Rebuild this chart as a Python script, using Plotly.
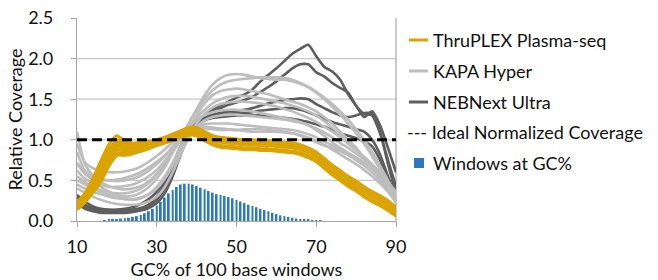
import plotly.graph_objects as go

GC = [10,12,14,16,18,20,22,24,26,28,30,32,34,36,38,40,42,44,46,48,50,52,54,56,58,60,62,64,66,68,70,72,74,76,78,80,82,84,86,88,90]

THRUPLEX = [
 [0.23,0.34,0.52,0.74,0.94,1.05,0.98,0.96,0.97,0.98,1.0,1.03,1.07,1.11,1.15,1.15,1.1,1.05,1.03,1.02,1.01,1.0,1.0,0.99,0.99,0.98,0.97,0.96,0.94,0.9,0.85,0.77,0.69,0.62,0.55,0.49,0.42,0.36,0.31,0.25,0.17],
 [0.19,0.31,0.48,0.67,0.87,1.0,0.95,0.93,0.94,0.96,0.99,1.02,1.05,1.09,1.12,1.12,1.07,1.02,1.0,0.99,0.98,0.97,0.97,0.96,0.96,0.95,0.94,0.93,0.91,0.87,0.82,0.74,0.66,0.59,0.52,0.46,0.39,0.33,0.28,0.22,0.14],
 [0.25,0.29,0.44,0.62,0.81,0.95,0.91,0.9,0.92,0.95,0.98,1.01,1.04,1.08,1.11,1.11,1.06,1.01,0.99,0.98,0.97,0.96,0.96,0.95,0.95,0.94,0.93,0.92,0.9,0.86,0.81,0.73,0.65,0.58,0.51,0.45,0.38,0.32,0.27,0.21,0.13],
 [0.16,0.27,0.42,0.6,0.79,0.92,0.88,0.88,0.91,0.94,0.97,1.0,1.03,1.07,1.1,1.1,1.05,1.0,0.98,0.97,0.96,0.95,0.95,0.94,0.94,0.93,0.92,0.91,0.89,0.85,0.8,0.72,0.64,0.57,0.5,0.44,0.37,0.31,0.26,0.2,0.12],
 [0.21,0.26,0.39,0.56,0.75,0.88,0.86,0.87,0.9,0.93,0.96,0.99,1.02,1.06,1.09,1.09,1.04,0.99,0.97,0.96,0.95,0.94,0.94,0.93,0.93,0.92,0.91,0.9,0.88,0.84,0.79,0.71,0.63,0.56,0.49,0.43,0.36,0.3,0.25,0.19,0.11],
 [0.14,0.23,0.36,0.52,0.71,0.84,0.83,0.85,0.88,0.91,0.94,0.97,1.0,1.04,1.07,1.07,1.01,0.96,0.93,0.92,0.91,0.9,0.9,0.89,0.89,0.88,0.87,0.86,0.84,0.8,0.75,0.67,0.59,0.52,0.45,0.39,0.32,0.26,0.21,0.15,0.07],
 [0.18,0.28,0.45,0.64,0.85,0.97,0.93,0.92,0.93,0.95,0.98,1.01,1.04,1.08,1.12,1.12,1.08,1.03,1.01,1.0,0.99,0.98,0.98,0.97,0.97,0.96,0.95,0.94,0.92,0.88,0.83,0.75,0.67,0.6,0.53,0.47,0.4,0.34,0.29,0.23,0.15],
 [0.22,0.25,0.35,0.49,0.68,0.81,0.81,0.83,0.86,0.89,0.93,0.96,0.99,1.03,1.06,1.05,0.99,0.94,0.91,0.9,0.89,0.88,0.88,0.87,0.87,0.86,0.85,0.84,0.82,0.78,0.73,0.65,0.57,0.5,0.43,0.37,0.3,0.24,0.19,0.13,0.06],
]

KAPA = [
 [0.72,0.6,0.5,0.42,0.36,0.32,0.3,0.31,0.35,0.42,0.52,0.66,0.84,1.02,1.2,1.38,1.55,1.68,1.76,1.8,1.81,1.8,1.78,1.76,1.75,1.74,1.74,1.72,1.69,1.65,1.59,1.52,1.44,1.35,1.25,1.13,1.0,0.85,0.68,0.5,0.3],
 [1.1,0.7,0.56,0.48,0.43,0.4,0.39,0.4,0.43,0.49,0.58,0.7,0.86,1.03,1.2,1.36,1.5,1.61,1.68,1.72,1.74,1.75,1.76,1.77,1.77,1.77,1.76,1.74,1.7,1.65,1.58,1.5,1.41,1.31,1.2,1.08,0.95,0.8,0.64,0.48,0.32],
 [0.5,0.45,0.4,0.36,0.32,0.29,0.27,0.26,0.28,0.33,0.42,0.55,0.72,0.92,1.12,1.3,1.45,1.55,1.6,1.62,1.63,1.62,1.6,1.58,1.56,1.53,1.5,1.47,1.44,1.4,1.35,1.28,1.2,1.1,1.0,0.9,0.78,0.66,0.54,0.42,0.26],
 [0.62,0.52,0.47,0.44,0.42,0.42,0.43,0.45,0.49,0.55,0.63,0.74,0.87,1.01,1.15,1.27,1.37,1.45,1.5,1.53,1.54,1.54,1.53,1.51,1.49,1.47,1.45,1.42,1.39,1.35,1.3,1.23,1.15,1.06,0.97,0.88,0.78,0.68,0.57,0.45,0.34],
 [0.85,0.62,0.55,0.52,0.5,0.49,0.5,0.52,0.56,0.62,0.7,0.8,0.92,1.04,1.15,1.24,1.3,1.34,1.36,1.37,1.37,1.36,1.35,1.33,1.31,1.29,1.27,1.25,1.22,1.18,1.12,1.05,0.97,0.9,0.84,0.78,0.72,0.64,0.55,0.44,0.3],
 [0.4,0.35,0.3,0.26,0.23,0.21,0.2,0.2,0.21,0.24,0.3,0.42,0.6,0.82,1.02,1.16,1.24,1.28,1.3,1.31,1.31,1.3,1.29,1.28,1.27,1.26,1.25,1.23,1.21,1.18,1.14,1.09,1.03,0.96,0.9,0.83,0.76,0.68,0.58,0.46,0.34],
 [0.95,0.72,0.65,0.62,0.6,0.6,0.61,0.63,0.67,0.73,0.8,0.88,0.97,1.06,1.13,1.17,1.19,1.2,1.2,1.2,1.19,1.18,1.17,1.16,1.15,1.14,1.13,1.12,1.1,1.07,1.03,0.98,0.93,0.88,0.83,0.78,0.72,0.65,0.56,0.45,0.3],
 [0.55,0.48,0.42,0.38,0.35,0.34,0.34,0.36,0.4,0.47,0.57,0.7,0.85,0.99,1.1,1.15,1.16,1.15,1.14,1.13,1.12,1.11,1.1,1.1,1.1,1.1,1.09,1.08,1.06,1.03,0.99,0.94,0.88,0.82,0.76,0.7,0.63,0.55,0.46,0.36,0.24],
 [0.7,0.58,0.52,0.5,0.5,0.51,0.53,0.56,0.6,0.66,0.73,0.81,0.9,0.99,1.07,1.12,1.14,1.13,1.12,1.12,1.12,1.13,1.13,1.13,1.12,1.11,1.1,1.08,1.05,1.01,0.97,0.93,0.9,0.86,0.81,0.75,0.68,0.6,0.5,0.38,0.22],
 [0.45,0.4,0.36,0.33,0.3,0.28,0.27,0.27,0.29,0.33,0.4,0.52,0.68,0.87,1.05,1.2,1.32,1.4,1.44,1.46,1.47,1.47,1.46,1.45,1.43,1.41,1.38,1.35,1.31,1.27,1.22,1.16,1.1,1.03,0.95,0.87,0.79,0.7,0.6,0.48,0.36],
]

NEBNEXT = [
 [0.3,0.2,0.15,0.13,0.12,0.12,0.12,0.12,0.13,0.16,0.22,0.34,0.55,0.82,1.05,1.2,1.3,1.37,1.42,1.47,1.52,1.56,1.62,1.72,1.8,1.88,1.97,2.06,2.12,2.17,2.03,1.9,1.84,1.74,1.56,1.42,1.28,1.35,1.18,0.9,0.6],
 [0.25,0.17,0.13,0.12,0.11,0.11,0.11,0.12,0.14,0.18,0.26,0.4,0.62,0.88,1.08,1.22,1.3,1.35,1.39,1.43,1.46,1.49,1.53,1.59,1.65,1.72,1.8,1.88,1.93,1.93,1.83,1.78,1.7,1.64,1.58,1.42,1.32,1.3,1.08,0.75,0.42],
 [0.28,0.2,0.16,0.14,0.13,0.13,0.13,0.14,0.16,0.2,0.28,0.42,0.63,0.88,1.07,1.2,1.27,1.31,1.33,1.35,1.36,1.37,1.39,1.42,1.45,1.47,1.49,1.5,1.51,1.5,1.44,1.39,1.34,1.3,1.28,1.3,1.33,1.32,1.1,0.7,0.34],
 [0.22,0.15,0.12,0.1,0.1,0.1,0.1,0.11,0.14,0.2,0.3,0.46,0.68,0.92,1.1,1.22,1.28,1.3,1.31,1.32,1.33,1.33,1.34,1.36,1.37,1.38,1.39,1.39,1.37,1.34,1.3,1.26,1.22,1.19,1.16,1.13,1.1,1.0,0.82,0.55,0.3],
 [0.32,0.24,0.18,0.15,0.14,0.14,0.15,0.17,0.21,0.27,0.36,0.5,0.7,0.92,1.08,1.18,1.24,1.27,1.28,1.29,1.3,1.3,1.3,1.3,1.29,1.28,1.27,1.26,1.24,1.22,1.19,1.16,1.12,1.08,1.05,1.02,0.98,0.92,0.75,0.5,0.28],
]

WIN_GC = list(range(17, 72))
WIN_FRAC = [0.01,0.015,0.02,0.025,0.03,0.035,0.04,0.05,0.06,0.075,0.095,0.12,0.15,0.19,0.24,0.29,0.34,0.38,0.42,0.45,0.46,0.46,0.45,0.43,0.41,0.39,0.37,0.35,0.33,0.32,0.31,0.295,0.28,0.26,0.24,0.22,0.2,0.185,0.17,0.15,0.135,0.12,0.1,0.085,0.07,0.06,0.05,0.04,0.03,0.025,0.02,0.015,0.01,0.008,0.005]

IDEAL_X = [10, 90]
IDEAL_Y = [1.0, 1.0]

X_TICKS = [10, 30, 50, 70, 90]
Y_TICKS = [0.0, 0.5, 1.0, 1.5, 2.0, 2.5]
Y_TICK_TEXT = ["0.0", "0.5", "1.0", "1.5", "2.0", "2.5"]
GRID_Y = [0.5, 1.0, 1.5, 2.0]

LEGEND_LABELS = ["ThruPLEX Plasma-seq", "KAPA Hyper", "NEBNext Ultra", "--- Ideal Normalized Coverage", "Windows at GC%"]

GOLD = "#D9A404"
LIGHT = "#BDBDBD"
DARK = "#5E5E5E"
BLUE = "#2E78BE"
FONT = "Lato"

fig = go.Figure()

fig.add_trace(go.Bar(x=WIN_GC, y=WIN_FRAC, width=0.5, marker=dict(color=BLUE, line=dict(width=0)),
                     name=LEGEND_LABELS[4], showlegend=False))

for ys in NEBNEXT:
    fig.add_trace(go.Scatter(x=GC, y=ys, mode="lines", line=dict(color=DARK, width=2.6, shape="spline", smoothing=0.6),
                             name=LEGEND_LABELS[2], showlegend=False))
for ys in KAPA:
    fig.add_trace(go.Scatter(x=GC, y=ys, mode="lines", line=dict(color=LIGHT, width=2.6, shape="spline", smoothing=0.6),
                             name=LEGEND_LABELS[1], showlegend=False))
for ys in THRUPLEX:
    fig.add_trace(go.Scatter(x=GC, y=ys, mode="lines", line=dict(color=GOLD, width=3.2, shape="spline", smoothing=0.6),
                             name=LEGEND_LABELS[0], showlegend=False))

fig.add_trace(go.Scatter(x=IDEAL_X, y=IDEAL_Y, mode="lines", line=dict(color="#000000", width=3, dash="10px,5px"),
                         name="Ideal Normalized Coverage", showlegend=False, cliponaxis=False))

# plot area in pixels: x 77..396, y 18..221
def px_x(p):
    return (p - 77) / 319.0

def px_y(p):
    return (221 - p) / 203.0

shapes = []
for gy in GRID_Y:
    shapes.append(dict(type="line", xref="paper", x0=0, x1=1, yref="y", y0=gy, y1=gy,
                       line=dict(color="#C8C8C8", width=1.2), layer="below"))
shapes.append(dict(type="line", xref="paper", x0=1, x1=1, yref="paper", y0=0, y1=1,
                   line=dict(color="#A6A6A6", width=1.2), layer="below"))

# legend (manual)
leg_y = [40, 71, 102, 132, 163]
leg_colors = [GOLD, LIGHT, DARK]
annotations = []
for i, lab in enumerate(LEGEND_LABELS):
    yy = px_y(leg_y[i])
    if i < 3:
        shapes.append(dict(type="line", xref="paper", yref="paper", x0=px_x(409), x1=px_x(428), y0=yy, y1=yy,
                           line=dict(color=leg_colors[i], width=3)))
        tx = 431
    elif i == 3:
        tx = 405
    else:
        shapes.append(dict(type="rect", xref="paper", yref="paper", x0=px_x(414), x1=px_x(424),
                           y0=px_y(leg_y[i] + 5), y1=px_y(leg_y[i] - 5), line=dict(width=0), fillcolor=BLUE))
        tx = 431
    annotations.append(dict(text=lab, xref="paper", yref="paper", x=px_x(tx), y=yy, xanchor="left", yanchor="middle",
                            showarrow=False, font=dict(family=FONT, size=18, color="#111111")))

fig.update_layout(
    width=658, height=280,
    margin=dict(l=77, r=262, t=18, b=59),
    paper_bgcolor="white", plot_bgcolor="white",
    font=dict(family=FONT, size=17, color="#111111"),
    showlegend=False,
    barmode="overlay",
    shapes=shapes,
    annotations=annotations,
)
fig.update_xaxes(range=[10, 90], tickvals=X_TICKS, ticks="outside", ticklen=5, tickcolor="#A6A6A6",
                 showline=True, linecolor="#A6A6A6", linewidth=1.2, showgrid=False, zeroline=False,
                 tickfont=dict(size=18), ticklabelstandoff=4, automargin=False,
                 title=dict(text="GC% of 100 base windows", font=dict(size=18), standoff=19))
fig.update_yaxes(range=[0, 2.5], tickvals=Y_TICKS, ticktext=Y_TICK_TEXT, ticks="outside", ticklen=5, tickcolor="#A6A6A6",
                 showline=True, linecolor="#A6A6A6", linewidth=1.2, showgrid=False, zeroline=False,
                 tickfont=dict(size=18), ticklabelstandoff=14, automargin=False,
                 title=dict(text="Relative Coverage", font=dict(size=18), standoff=0))

fig.write_html("out.html", config={"displayModeBar": False},
               post_script="document.body.style.margin='0';document.body.style.padding='0';document.body.style.overflow='hidden';")
